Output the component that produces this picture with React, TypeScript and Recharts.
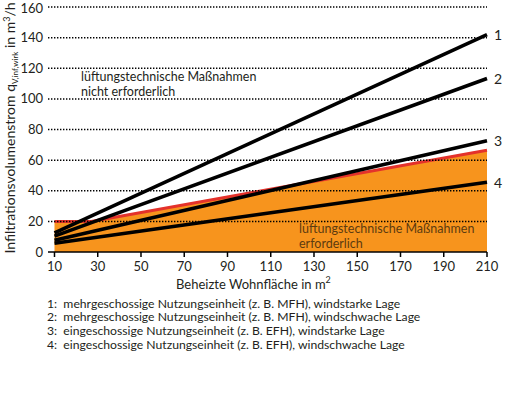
import { Area, ComposedChart, Line, ReferenceLine, XAxis, YAxis } from "recharts";

// x positions where a value was read (10 m², knee of the limit curve, 210 m²)
const areas = [10, 27, 210];
const line1 = [12.5, null, 142];
const line2 = [10.3, null, 113.3];
const line3 = [7.7, null, 72.7];
const line4 = [5.7, null, 45.5];
const limit = [20, 20, 66.4];

const xTicks = [10, 30, 50, 70, 90, 110, 130, 150, 170, 190, 210];
const yTicks = [0, 20, 40, 60, 80, 100, 120, 140, 160];
const gridValues = [20, 40, 60, 80, 100, 120, 140, 160];

const legendItems = [
  "1:  mehrgeschossige Nutzungseinheit (z. B. MFH), windstarke Lage",
  "2:  mehrgeschossige Nutzungseinheit (z. B. MFH), windschwache Lage",
  "3:  eingeschossige Nutzungseinheit (z. B. EFH), windstarke Lage",
  "4:  eingeschossige Nutzungseinheit (z. B. EFH), windschwache Lage"
];

const data = areas.map((x, i) => ({
  x,
  l1: line1[i],
  l2: line2[i],
  l3: line3[i],
  l4: line4[i],
  limit: limit[i]
}));

const font = "Lato, 'Open Sans', sans-serif";
const ink = "#231f20";

function endLabel(name: string) {
  return (props: any) => {
    if (props.index !== data.length - 1) return null;
    return (
      <text x={props.x + 7} y={props.y} dominantBaseline="central" fontSize={14} fontFamily={font} fill={ink}>
        {name}
      </text>
    );
  };
}

export default function App() {
  return (
    <div style={{ position: "absolute", left: 0, top: 0, width: 506, height: 400, background: "#fff" }}>
      <ComposedChart width={506} height={300} data={data} margin={{ top: 7, right: 19, left: 0, bottom: 18 }}>
        <XAxis
          type="number"
          dataKey="x"
          domain={[7, 210]}
          ticks={xTicks}
          height={30}
          axisLine={{ stroke: "#000", strokeWidth: 1.5 }}
          tickLine={{ stroke: "#000", strokeWidth: 1.5 }}
          tickSize={5}
          tickMargin={5}
          tick={{ fontSize: 13, fontFamily: font, fill: ink }}
        />
        <YAxis
          type="number"
          domain={[0, 160]}
          ticks={yTicks}
          width={48}
          axisLine={false}
          tickLine={false}
          tickSize={0}
          tickMargin={5}
          tick={{ fontSize: 13, fontFamily: font, fill: ink }}
        />
        <Area
          type="linear"
          dataKey="limit"
          stroke="#e4322b"
          strokeWidth={3}
          fill="#f7941d"
          fillOpacity={1}
          isAnimationActive={false}
        />
        {gridValues.map((v) => (
          <ReferenceLine key={v} y={v} stroke="#000" strokeWidth={1.5} strokeDasharray="1.4 1.6" />
        ))}
        <Line type="linear" dataKey="l4" stroke="#000" strokeWidth={3.5} dot={false} connectNulls isAnimationActive={false} label={endLabel("4")} />
        <Line type="linear" dataKey="l3" stroke="#000" strokeWidth={3.5} dot={false} connectNulls isAnimationActive={false} label={endLabel("3")} />
        <Line type="linear" dataKey="l2" stroke="#000" strokeWidth={3.5} dot={false} connectNulls isAnimationActive={false} label={endLabel("2")} />
        <Line type="linear" dataKey="l1" stroke="#000" strokeWidth={3.5} dot={false} connectNulls isAnimationActive={false} label={endLabel("1")} />
      </ComposedChart>
      <svg width={506} height={400} style={{ position: "absolute", left: 0, top: 0, pointerEvents: "none" }} fontFamily={font} fill={ink}>
        <text transform="translate(15,128) rotate(-90)" textAnchor="middle" fontSize={14}>
          Infiltrationsvolumenstrom q
          <tspan dy={3} fontSize={8}>V,inf,wirk</tspan>
          <tspan dy={-3}> in m</tspan>
          <tspan dy={-5} fontSize={9}>3</tspan>
          <tspan dy={5}>/h</tspan>
        </text>
        <text x={176} y={284} dominantBaseline="central" fontSize={13}>
          Beheizte Wohnfläche in m<tspan dy={-5} fontSize={9}>2</tspan>
        </text>
        <text x={81} y={76} dominantBaseline="central" fontSize={12.5}>lüftungstechnische Maßnahmen</text>
        <text x={81} y={91} dominantBaseline="central" fontSize={12.5}>nicht erforderlich</text>
        <text x={299} y={228} dominantBaseline="central" fontSize={12.5} fill="#5c3b10">lüftungstechnische Maßnahmen</text>
        <text x={299} y={243} dominantBaseline="central" fontSize={12.5} fill="#5c3b10">erforderlich</text>
        {legendItems.map((t, i) => (
          <text key={i} x={47} y={303 + i * 13.7} dominantBaseline="central" fontSize={12.2} style={{ whiteSpace: "pre" }}>
            {t}
          </text>
        ))}
      </svg>
    </div>
  );
}
